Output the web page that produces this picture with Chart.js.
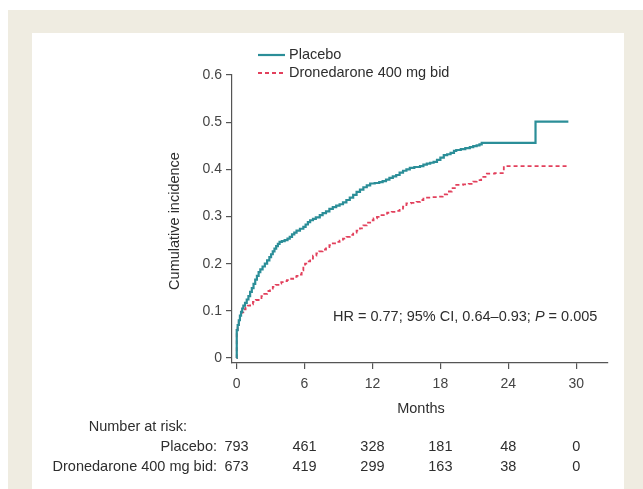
<!DOCTYPE html>
<html>
<head>
<meta charset="utf-8">
<script src="https://cdn.jsdelivr.net/npm/chart.js@4.4.1/dist/chart.umd.min.js"></script>
<style>
  html, body { margin: 0; padding: 0; background: #ffffff; }
  #page { position: relative; width: 643px; height: 489px; overflow: hidden; background: #ffffff; }
  #frame { position: absolute; left: 8px; top: 10px; width: 635px; height: 479px; background: #efece1; }
  #inner { position: absolute; left: 32px; top: 33px; width: 592px; height: 456px; background: #ffffff; }
  #c { position: absolute; left: 0; top: 0; }
</style>
</head>
<body>
<div id="page">
  <div id="frame"></div>
  <div id="inner"></div>
  <canvas id="c" width="643" height="489"></canvas>
</div>
<script>
// ---- Data ----
const placeboMonths = [0, 0.02, 0.1, 0.2, 0.3, 0.4, 0.5, 0.6, 0.75, 0.9, 1.05, 1.2, 1.35, 1.5, 1.65, 1.8, 1.95, 2.1, 2.3, 2.5, 2.7, 2.9, 3.05, 3.2, 3.35, 3.5, 3.65, 3.8, 4.0, 4.25, 4.5, 4.7, 4.9, 5.1, 5.3, 5.6, 5.9, 6.1, 6.3, 6.5, 6.75, 7.0, 7.35, 7.6, 7.9, 8.2, 8.5, 8.8, 9.1, 9.4, 9.7, 10.0, 10.3, 10.6, 10.9, 11.2, 11.5, 11.8, 12.2, 12.6, 12.9, 13.2, 13.5, 13.8, 14.1, 14.4, 14.7, 15.0, 15.3, 15.7, 16.2, 16.5, 16.8, 17.1, 17.4, 17.7, 18.0, 18.3, 18.6, 18.9, 19.2, 19.4, 19.8, 20.2, 20.6, 20.9, 21.2, 21.45, 21.65, 26.4, 29.3];
const placeboIncidence = [0, 0.059, 0.07, 0.08, 0.09, 0.098, 0.105, 0.111, 0.117, 0.124, 0.131, 0.14, 0.148, 0.157, 0.166, 0.174, 0.182, 0.188, 0.194, 0.2, 0.207, 0.214, 0.22, 0.226, 0.232, 0.237, 0.242, 0.246, 0.248, 0.25, 0.253, 0.257, 0.262, 0.266, 0.27, 0.274, 0.278, 0.283, 0.288, 0.292, 0.295, 0.298, 0.303, 0.307, 0.311, 0.316, 0.32, 0.323, 0.326, 0.33, 0.335, 0.34, 0.346, 0.352, 0.357, 0.362, 0.366, 0.37, 0.371, 0.373, 0.375, 0.378, 0.382, 0.385, 0.388, 0.393, 0.397, 0.4, 0.403, 0.405, 0.407, 0.41, 0.412, 0.414, 0.416, 0.42, 0.425, 0.43, 0.432, 0.435, 0.439, 0.441, 0.443, 0.445, 0.447, 0.449, 0.451, 0.453, 0.456, 0.501, 0.501];

const droneMonths = [0, 0.02, 0.1, 0.2, 0.3, 0.45, 0.6, 0.8, 1.0, 1.2, 1.45, 1.7, 1.95, 2.2, 2.45, 2.7, 2.95, 3.2, 3.45, 3.7, 3.95, 4.2, 4.45, 4.7, 5.0, 5.3, 5.6, 5.75, 5.9, 6.05, 6.25, 6.5, 6.75, 7.05, 7.3, 7.6, 7.9, 8.2, 8.5, 8.8, 9.1, 9.4, 9.7, 10.0, 10.3, 10.6, 10.9, 11.2, 11.5, 11.8, 12.1, 12.4, 12.7, 13.0, 13.3, 13.7, 14.1, 14.4, 14.7, 15.0, 15.4, 15.9, 16.2, 16.5, 17.2, 17.8, 18.2, 18.6, 19.0, 19.4, 20.0, 20.5, 20.9, 21.2, 21.6, 22.1, 22.8, 23.6, 29.3];
const droneIncidence = [0, 0.059, 0.07, 0.08, 0.089, 0.097, 0.103, 0.107, 0.111, 0.114, 0.119, 0.123, 0.127, 0.131, 0.136, 0.142, 0.147, 0.151, 0.155, 0.158, 0.161, 0.163, 0.165, 0.168, 0.172, 0.174, 0.177, 0.186, 0.194, 0.2, 0.205, 0.211, 0.217, 0.222, 0.226, 0.23, 0.235, 0.239, 0.243, 0.246, 0.249, 0.253, 0.257, 0.261, 0.266, 0.27, 0.275, 0.281, 0.287, 0.292, 0.296, 0.299, 0.303, 0.306, 0.308, 0.31, 0.312, 0.314, 0.321, 0.328, 0.329, 0.331, 0.335, 0.34, 0.341, 0.342, 0.347, 0.353, 0.36, 0.367, 0.368, 0.369, 0.374, 0.377, 0.384, 0.391, 0.392, 0.407, 0.407];

const xTickValues = [0, 6, 12, 18, 24, 30];
const xTickLabels = ["0", "6", "12", "18", "24", "30"];
const yTickValues = [0, 0.1, 0.2, 0.3, 0.4, 0.5, 0.6];
const yTickLabels = ["0", "0.1", "0.2", "0.3", "0.4", "0.5", "0.6"];

const riskMonths = [0, 6, 12, 18, 24, 30];
const riskPlacebo = [793, 461, 328, 181, 48, 0];
const riskDrone = [673, 419, 299, 163, 38, 0];

const seriesNames = ["Placebo", "Dronedarone 400 mg bid"];
const riskRowLabels = ["Placebo:", "Dronedarone 400 mg bid:"];

// ---- Styles ----
const TEAL = "#2b8e98";
const RED = "#e2405c";
const TEXT = "#2e2e2e";
const AXIS = "#555555";
const FONT = "'Liberation Sans', Arial, Helvetica, sans-serif";
const FS = 14.5;

const toPoints = (xs, ys) => xs.map((x, i) => ({ x: x, y: ys[i] }));

const textPlugin = {
  id: 'extraText',
  afterDraw(chart) {
    const ctx = chart.ctx;
    const xs = chart.scales.x;
    ctx.save();
    ctx.fillStyle = TEXT;
    ctx.textBaseline = 'middle';

    // Legend
    const legendItems = [
      { name: seriesNames[0], color: TEAL, dash: [], width: 2.2, y: 55 },
      { name: seriesNames[1], color: RED, dash: [4, 3], width: 1.8, y: 73 }
    ];
    legendItems.forEach(it => {
      ctx.save();
      ctx.strokeStyle = it.color;
      ctx.lineWidth = it.width;
      ctx.setLineDash(it.dash);
      ctx.beginPath();
      ctx.moveTo(258, it.y);
      ctx.lineTo(285, it.y);
      ctx.stroke();
      ctx.restore();
      ctx.font = FS + "px " + FONT;
      ctx.textAlign = 'left';
      ctx.fillText(it.name, 289, it.y);
    });

    // Y axis title
    ctx.save();
    ctx.translate(175, 221);
    ctx.rotate(-Math.PI / 2);
    ctx.textAlign = 'center';
    ctx.font = FS + "px " + FONT;
    ctx.fillText("Cumulative incidence", 0, 0);
    ctx.restore();

    // X axis title
    ctx.font = FS + "px " + FONT;
    ctx.textAlign = 'center';
    ctx.fillText("Months", 421, 409);

    // Annotation
    ctx.textAlign = 'left';
    let ax = 333;
    const ay = 317;
    const parts = [
      { t: "HR = 0.77; 95% CI, 0.64\u20130.93; ", f: FS + "px " + FONT },
      { t: "P", f: "italic " + FS + "px " + FONT },
      { t: " = 0.005", f: FS + "px " + FONT }
    ];
    parts.forEach(p => {
      ctx.font = p.f;
      ctx.fillText(p.t, ax, ay);
      ax += ctx.measureText(p.t).width;
    });

    // Number at risk table
    ctx.font = FS + "px " + FONT;
    ctx.textAlign = 'right';
    ctx.fillText("Number at risk:", 187, 427);
    ctx.fillText(riskRowLabels[0], 217, 447);
    ctx.fillText(riskRowLabels[1], 217, 467);
    ctx.textAlign = 'center';
    riskMonths.forEach((m, i) => {
      const px = xs.getPixelForValue(m);
      ctx.fillText(String(riskPlacebo[i]), px, 447);
      ctx.fillText(String(riskDrone[i]), px, 467);
    });
    ctx.restore();
  }
};

new Chart(document.getElementById('c'), {
  type: 'line',
  data: {
    datasets: [
      {
        label: seriesNames[0],
        data: toPoints(placeboMonths, placeboIncidence),
        borderColor: TEAL,
        borderWidth: 2.2,
        stepped: true,
        pointRadius: 0,
        fill: false
      },
      {
        label: seriesNames[1],
        data: toPoints(droneMonths, droneIncidence),
        borderColor: RED,
        borderWidth: 1.8,
        borderDash: [4, 3],
        stepped: true,
        pointRadius: 0,
        fill: false
      }
    ]
  },
  options: {
    responsive: false,
    animation: false,
    devicePixelRatio: 1,
    layout: { padding: { left: 172, top: 75, right: 35, bottom: 86 } },
    plugins: {
      legend: { display: false },
      tooltip: { enabled: false }
    },
    scales: {
      x: {
        type: 'linear',
        min: -0.4,
        max: 32.8,
        afterBuildTicks: s => { s.ticks = xTickValues.map(v => ({ value: v })); },
        afterFit: s => { s.height = 40; },
        ticks: {
          color: '#444444',
          font: { family: FONT, size: 14 },
          padding: 7,
          maxRotation: 0,
          autoSkip: false,
          callback: (v) => { const i = xTickValues.indexOf(v); return i >= 0 ? xTickLabels[i] : ''; }
        },
        grid: { display: true, drawOnChartArea: false, drawTicks: true, tickLength: 6, color: AXIS, lineWidth: 1.2 },
        border: { display: true, color: AXIS, width: 1.2 }
      },
      y: {
        type: 'linear',
        min: -0.0106,
        max: 0.6,
        afterBuildTicks: s => { s.ticks = yTickValues.map(v => ({ value: v })); },
        afterFit: s => { s.width = 60; },
        ticks: {
          color: '#444444',
          font: { family: FONT, size: 14 },
          padding: 4,
          autoSkip: false,
          callback: (v) => {
            let best = 0;
            yTickValues.forEach((t, i) => { if (Math.abs(t - v) < Math.abs(yTickValues[best] - v)) best = i; });
            return yTickLabels[best];
          }
        },
        grid: { display: true, drawOnChartArea: false, drawTicks: true, tickLength: 6, color: AXIS, lineWidth: 1.2 },
        border: { display: true, color: AXIS, width: 1.2 }
      }
    }
  },
  plugins: [textPlugin]
});
</script>
</body>
</html>
